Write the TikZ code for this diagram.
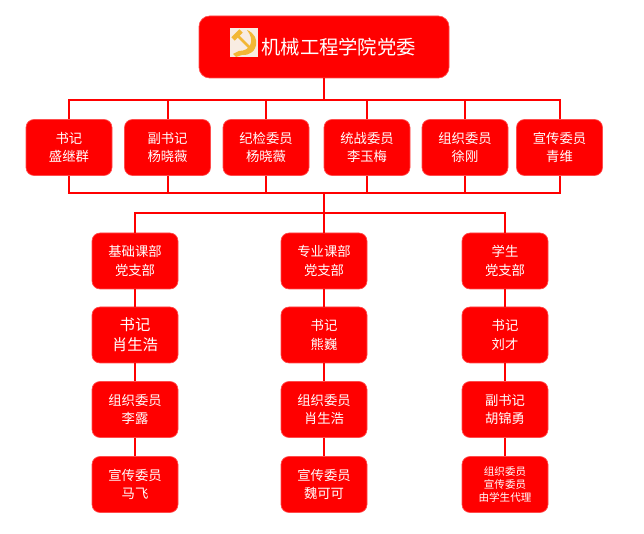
\documentclass[tikz,border=0pt]{standalone}
\usepackage{fontspec}
\newfontfamily\cjk{Noto Sans CJK SC}
\definecolor{gold}{HTML}{F2B735}
\definecolor{pale}{HTML}{F8ECE2}
\begin{document}
\begin{tikzpicture}[x=0.75pt,y=-0.75pt,
  box/.style={draw=red!70, line width=0.5pt, fill=red, rounded corners=6pt,
    minimum width=64.5pt, minimum height=42pt, text=white, align=center,
    font=\cjk\fontsize{10}{14}\selectfont},
  small/.style={font=\cjk\fontsize{7.9}{9.4}\selectfont},
  big/.style={font=\cjk\fontsize{11.5}{15}\selectfont},
  wire/.style={red, line width=1.5pt}]
\useasboundingbox (0,0) rectangle (644,534);
\node[box, minimum width=187.5pt, minimum height=46.5pt, rounded corners=8pt,
  font=\cjk\fontsize{14.5}{17}\selectfont] (top) at (324,47) {\hspace*{22pt}\raisebox{-3pt}{机械工程学院党委}};
% emblem
\fill[pale] (230,28) rectangle (258,57);
\fill[gold] (247,30) .. controls (262,36) and (258,56) .. (242,55)
  -- (236,57) -- (233,54) -- (239,51)
  .. controls (251,51) and (255,40) .. (247,30) -- cycle;
\draw[gold, line width=2pt] (238,36) -- (253,51);
\draw[gold, line width=3.5pt] (233,39) -- (241,31);
% committee
\node[box] (m1) at (69,147.5) {书记\\盛继群};
\node[box] (m2) at (167.5,147.5) {副书记\\杨晓薇};
\node[box] (m3) at (266,147.5) {纪检委员\\杨晓薇};
\node[box] (m4) at (367,147.5) {统战委员\\李玉梅};
\node[box] (m5) at (465,147.5) {组织委员\\徐刚};
\node[box] (m6) at (559.5,147.5) {宣传委员\\青维};
% branches
\node[box] (b1) at (135,261) {基础课部\\党支部};
\node[box] (b2) at (324,261) {专业课部\\党支部};
\node[box] (b3) at (505,261) {学生\\党支部};
\node[box, big] (c1) at (135,335) {书记\\肖生浩};
\node[box] (c2) at (324,335) {书记\\熊巍};
\node[box] (c3) at (505,335) {书记\\刘才};
\node[box] (d1) at (135,409.5) {组织委员\\李露};
\node[box] (d2) at (324,409.5) {组织委员\\肖生浩};
\node[box] (d3) at (505,409.5) {副书记\\胡锦勇};
\node[box] (e1) at (135,484.5) {宣传委员\\马飞};
\node[box] (e2) at (324,484.5) {宣传委员\\魏可可};
\node[box, small] (e3) at (505,484.5) {组织委员\\宣传委员\\由学生代理};
% lines
\coordinate (hub) at (324,213);
\foreach \i in {1,...,6} {
  \draw[wire] (top.south) -- ++(0,22) -| (m\i.north);
  \draw[wire] (m\i.south) -- ++(0,17) -| (hub);
}
\foreach \j in {1,2,3} {
  \draw[wire] (hub) -| (b\j.north);
  \draw[wire] (b\j.south) -- (c\j.north);
  \draw[wire] (c\j.south) -- (d\j.north);
  \draw[wire] (d\j.south) -- (e\j.north);
}
\end{tikzpicture}
\end{document}
